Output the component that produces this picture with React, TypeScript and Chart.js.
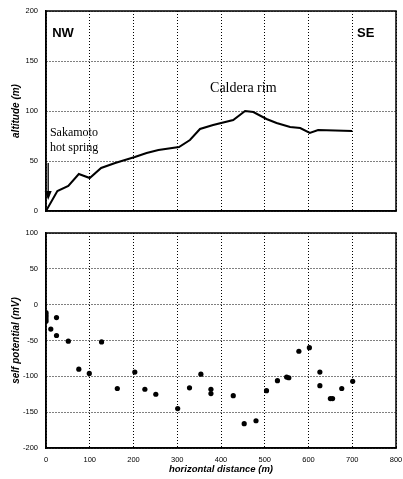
import React, { useEffect, useRef } from "react";
import { Chart, registerables } from "chart.js";

Chart.register(...registerables);

// ---- data ----
const profileDistance = [0, 26, 51, 75, 100, 126, 158, 203, 230, 257, 304, 329, 352, 382, 428, 455, 474, 504, 527, 558, 581, 603, 622, 700];
const profileAltitude = [0, 20, 25, 37, 33, 43, 48, 54, 58, 61, 64, 71, 82, 86, 91, 100, 99, 92, 88, 84, 83, 78, 81, 80];

const spDistance = [0, 0, 0, 0, 0, 11, 24, 24, 51, 75, 99, 127, 163, 203, 226, 251, 301, 328, 354, 377, 377, 428, 453, 480, 504, 529, 550, 555, 578, 602, 626, 626, 650, 655, 676, 701];
const spValue = [-11, -14, -17, -20, -23, -34, -18, -43, -51, -90, -96, -52, -117, -94, -118, -125, -145, -116, -97, -118, -124, -127, -166, -162, -120, -106, -101, -102, -65, -60, -94, -113, -131, -131, -117, -107];

const distanceRange = [0, 800];
const altitudeRange = [0, 200];
const spRange = [-200, 100];
const distanceStep = 100;
const altitudeStep = 50;
const spStep = 50;

// annotations (data coordinates of the upper chart)
const topNotes = [
  { text: "NW", x: 14, y: 174, font: "bold 13px 'Liberation Sans', Arial, sans-serif" },
  { text: "SE", x: 711, y: 174, font: "bold 13px 'Liberation Sans', Arial, sans-serif" },
  { text: "Caldera rim", x: 375, y: 119, font: "14px 'Liberation Serif', 'Times New Roman', serif" },
  { text: "Sakamoto", x: 9, y: 75, font: "12px 'Liberation Serif', 'Times New Roman', serif" },
  { text: "hot spring", x: 9, y: 60, font: "12px 'Liberation Serif', 'Times New Roman', serif" },
];
const arrowX = 5;
const arrowFrom = 48;
const arrowTo = 11;

const SANS = "'Liberation Sans', Arial, sans-serif";

const framePlugin = {
  id: "frame",
  afterDraw(chart: any) {
    const { ctx, chartArea } = chart;
    ctx.save();
    ctx.setLineDash([]);
    ctx.strokeStyle = "#000";
    ctx.lineWidth = 1.5;
    ctx.strokeRect(chartArea.left, chartArea.top, chartArea.right - chartArea.left, chartArea.bottom - chartArea.top);
    ctx.restore();
  },
};

const notesPlugin = {
  id: "notes",
  afterDatasetsDraw(chart: any) {
    const { ctx } = chart;
    const xs = chart.scales.x;
    const ys = chart.scales.y;
    ctx.save();
    ctx.fillStyle = "#000";
    ctx.textBaseline = "alphabetic";
    ctx.textAlign = "left";
    for (const n of topNotes) {
      ctx.font = n.font;
      ctx.fillText(n.text, xs.getPixelForValue(n.x), ys.getPixelForValue(n.y));
    }
    // arrow
    const ax = xs.getPixelForValue(arrowX);
    const y1 = ys.getPixelForValue(arrowFrom);
    const y2 = ys.getPixelForValue(arrowTo);
    ctx.strokeStyle = "#000";
    ctx.lineWidth = 1.3;
    ctx.beginPath();
    ctx.moveTo(ax, y1);
    ctx.lineTo(ax, y2 - 8);
    ctx.stroke();
    ctx.beginPath();
    ctx.moveTo(ax - 3.5, y2 - 9);
    ctx.lineTo(ax + 3.5, y2 - 9);
    ctx.lineTo(ax, y2);
    ctx.closePath();
    ctx.fill();
    ctx.restore();
  },
};

const gridCommon = {
  color: "#000",
  lineWidth: 1,
  drawTicks: false,
};
const borderCommon = {
  display: true,
  color: "#000",
  width: 1.5,
  dash: [1, 2],
};
const tickFont = { family: SANS, size: 7.5 };
const titleFont = { family: SANS, size: 10, weight: "bold" as const, style: "italic" as const };

const fitX = (h: number) => (s: any) => {
  s.height = h;
  s.paddingLeft = 0;
  s.paddingRight = 0;
};
const fitY = (s: any) => {
  s.width = 46;
  s.paddingTop = 0;
  s.paddingBottom = 0;
};

export default function App() {
  const topRef = useRef<HTMLCanvasElement>(null);
  const botRef = useRef<HTMLCanvasElement>(null);

  useEffect(() => {
    const top = new Chart(topRef.current!, {
      type: "line",
      data: {
        datasets: [
          {
            data: profileDistance.map((d, i) => ({ x: d, y: profileAltitude[i] })),
            borderColor: "#000",
            borderWidth: 2,
            pointRadius: 0,
            tension: 0,
            fill: false,
          },
        ],
      },
      options: {
        animation: false,
        responsive: false,
        maintainAspectRatio: false,
        layout: { padding: { top: 11, right: 7, left: 0, bottom: 0 } },
        plugins: { legend: { display: false }, tooltip: { enabled: false } },
        scales: {
          x: {
            type: "linear",
            min: distanceRange[0],
            max: distanceRange[1],
            ticks: { stepSize: distanceStep, display: false },
            grid: gridCommon,
            border: borderCommon,
            afterFit: fitX(11),
          },
          y: {
            type: "linear",
            min: altitudeRange[0],
            max: altitudeRange[1],
            ticks: { stepSize: altitudeStep, color: "#000", font: tickFont, padding: 8 },
            grid: gridCommon,
            border: borderCommon,
            title: { display: true, text: "altitude (m)", color: "#000", font: titleFont, padding: { top: 10, bottom: 0 } },
            afterFit: fitY,
          },
        },
      },
      plugins: [framePlugin, notesPlugin],
    } as any);

    const bot = new Chart(botRef.current!, {
      type: "scatter",
      data: {
        datasets: [
          {
            data: spDistance.map((d, i) => ({ x: d, y: spValue[i] })),
            backgroundColor: "#000",
            borderColor: "#000",
            borderWidth: 0,
            pointRadius: 2.6,
          },
        ],
      },
      options: {
        animation: false,
        responsive: false,
        maintainAspectRatio: false,
        layout: { padding: { top: 11, right: 7, left: 0, bottom: 0 } },
        plugins: { legend: { display: false }, tooltip: { enabled: false } },
        scales: {
          x: {
            type: "linear",
            min: distanceRange[0],
            max: distanceRange[1],
            ticks: { stepSize: distanceStep, color: "#000", font: tickFont, padding: 7, maxRotation: 0, autoSkip: false },
            grid: gridCommon,
            border: borderCommon,
            title: { display: true, text: "horizontal distance (m)", color: "#000", font: { ...titleFont, size: 9.5 }, padding: { top: 0, bottom: 4 } },
            afterFit: fitX(31),
          },
          y: {
            type: "linear",
            min: spRange[0],
            max: spRange[1],
            ticks: { stepSize: spStep, color: "#000", font: tickFont, padding: 8 },
            grid: gridCommon,
            border: borderCommon,
            title: { display: true, text: "self potential (mV)", color: "#000", font: titleFont, padding: { top: 10, bottom: 0 } },
            afterFit: fitY,
          },
        },
      },
      plugins: [framePlugin],
    } as any);

    return () => {
      top.destroy();
      bot.destroy();
    };
  }, []);

  return (
    <div style={{ position: "absolute", left: 0, top: 0, width: 403, height: 479, background: "#fff" }}>
      <canvas ref={topRef} width={403} height={222} style={{ position: "absolute", left: 0, top: 0 }} />
      <canvas ref={botRef} width={403} height={257} style={{ position: "absolute", left: 0, top: 222 }} />
    </div>
  );
}
